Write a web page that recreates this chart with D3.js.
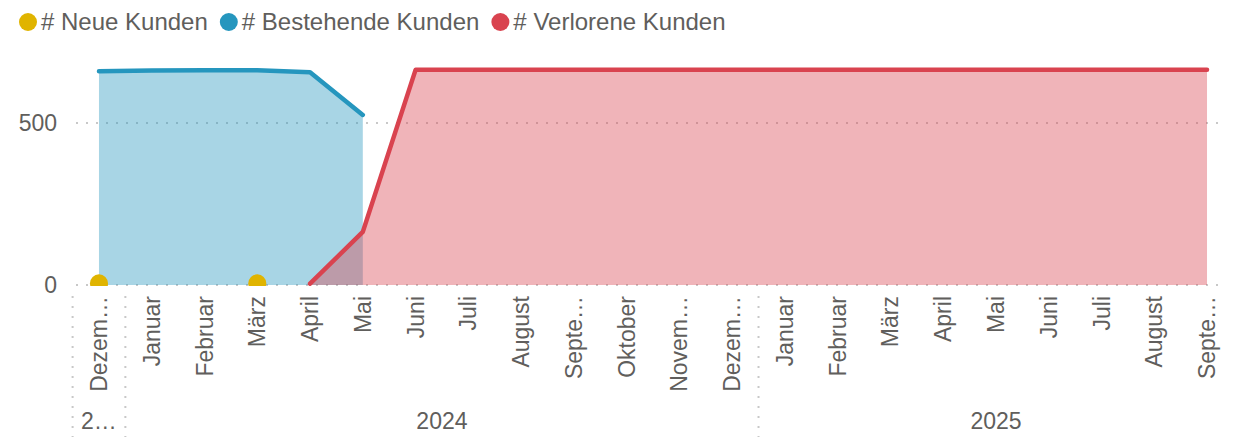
<!DOCTYPE html>
<html lang="de">
<head>
<meta charset="UTF-8">
<title>Kunden</title>
<script src="https://d3js.org/d3.v7.min.js"></script>
<style>
    body { margin: 0; background: #fff; }
    svg { display: block; font-family: "Liberation Sans", Arial, sans-serif; }
    .lbl { fill: #605e5c; font-size: 23px; }
    .legend text { font-size: 24px; }
    .grid { stroke: #c8c8c8; stroke-width: 2px; stroke-dasharray: 2 8; }
</style>
</head>
<body>
<div id="chart"></div>
<script>
    // Month labels and the year each month belongs to
    const months = ["Dezember", "Januar", "Februar", "März", "April", "Mai", "Juni", "Juli",
        "August", "September", "Oktober", "November", "Dezember",
        "Januar", "Februar", "März", "April", "Mai", "Juni", "Juli", "August", "September"];
    const years = [2023, 2024, 2024, 2024, 2024, 2024, 2024, 2024, 2024, 2024, 2024, 2024, 2024,
        2025, 2025, 2025, 2025, 2025, 2025, 2025, 2025, 2025];

    // Series values (null = no value for that month)
    const neueKunden = [2, null, null, 2, null, null, null, null, null, null, null, null, null,
        null, null, null, null, null, null, null, null, null];
    const bestehendeKunden = [660, 662, 663, 663, 657, 525, null, null, null, null, null, null, null,
        null, null, null, null, null, null, null, null, null];
    const verloreneKunden = [null, null, null, null, 4, 164, 664, 664, 664, 664, 664, 664, 664,
        664, 664, 664, 664, 664, 664, 664, 664, 664];

    const yTicks = [0, 500];

    const series = [
        {name: "# Neue Kunden", color: "#e0b400"},
        {name: "# Bestehende Kunden", color: "#2596be"},
        {name: "# Verlorene Kunden", color: "#d9434f"}
    ];

    const width = 1236, height = 437;
    const svg = d3.select("#chart").append("svg")
        .attr("width", width)
        .attr("height", height);

    const idx = d3.range(months.length);
    const x = d3.scalePoint().domain(idx).range([72.6, 1233.4]).padding(0.5);
    const step = x.step();
    const y = d3.scaleLinear().domain([0, 700]).range([285, 58.2]);

    // Legend
    const legend = svg.append("g").attr("class", "legend");
    let lx = 19;
    series.forEach(s => {
        legend.append("circle").attr("cx", lx + 9).attr("cy", 22).attr("r", 9).attr("fill", s.color);
        const t = legend.append("text").attr("class", "lbl")
            .attr("x", lx + 22).attr("y", 30).text(s.name);
        lx += 22 + t.node().getComputedTextLength() + 12;
    });

    // Gridlines and y labels
    svg.append("g").selectAll("line").data(yTicks).join("line")
        .attr("class", "grid")
        .attr("x1", 76).attr("x2", 1222)
        .attr("y1", d => y(d)).attr("y2", d => y(d));
    svg.append("g").selectAll("text").data(yTicks).join("text")
        .attr("class", "lbl")
        .attr("text-anchor", "end")
        .attr("x", 57).attr("y", d => y(d) + 8)
        .text(d => d);

    // Plot clip
    svg.append("clipPath").attr("id", "plot")
        .append("rect").attr("x", 60).attr("y", 0).attr("width", width - 60).attr("height", 286);
    const plot = svg.append("g").attr("clip-path", "url(#plot)");

    const area = vals => d3.area()
        .defined(i => vals[i] != null)
        .x(i => x(i)).y0(y(0)).y1(i => y(vals[i]))(idx);
    const line = vals => d3.line()
        .defined(i => vals[i] != null)
        .x(i => x(i)).y(i => y(vals[i]))(idx);

    plot.append("path").attr("d", area(bestehendeKunden))
        .attr("fill", series[1].color).attr("fill-opacity", 0.4);
    plot.append("path").attr("d", area(verloreneKunden))
        .attr("fill", series[2].color).attr("fill-opacity", 0.4);
    plot.append("path").attr("d", line(bestehendeKunden))
        .attr("fill", "none").attr("stroke", series[1].color).attr("stroke-width", 4.5)
        .attr("stroke-linecap", "round").attr("stroke-linejoin", "round");
    plot.append("path").attr("d", line(verloreneKunden))
        .attr("fill", "none").attr("stroke", series[2].color).attr("stroke-width", 4.5)
        .attr("stroke-linecap", "round").attr("stroke-linejoin", "round");
    plot.selectAll("circle.neu").data(idx.filter(i => neueKunden[i] != null)).join("circle")
        .attr("class", "neu")
        .attr("cx", i => x(i)).attr("cy", i => y(neueKunden[i]) - 1).attr("r", 9)
        .attr("fill", series[0].color);

    // Truncate text to a max width with an ellipsis
    function fit(sel, maxW) {
        sel.each(function () {
            const el = d3.select(this);
            const full = el.text();
            if (this.getComputedTextLength() <= maxW) return;
            let n = full.length;
            while (n > 1) {
                n--;
                el.text(full.slice(0, n) + "…");
                if (this.getComputedTextLength() <= maxW) break;
            }
        });
    }

    // Month labels
    svg.append("g").selectAll("text").data(idx).join("text")
        .attr("class", "lbl")
        .attr("text-anchor", "end")
        .attr("dy", "0.35em")
        .attr("transform", i => `translate(${x(i)},296) rotate(-90)`)
        .text(i => months[i])
        .call(fit, 100);

    // Year groups
    const groups = d3.groups(idx, i => years[i]).map(([yr, is]) => ({
        yr, x0: x(is[0]) - step / 2, x1: x(is[is.length - 1]) + step / 2
    }));
    const sep = groups.map(g => g.x0);
    svg.append("g").selectAll("line").data(sep).join("line")
        .attr("class", "grid")
        .attr("x1", d => d).attr("x2", d => d)
        .attr("y1", 296).attr("y2", height);
    svg.append("g").selectAll("text").data(groups).join("text")
        .attr("class", "lbl")
        .attr("text-anchor", "middle")
        .attr("x", g => (g.x0 + g.x1) / 2).attr("y", 429)
        .text(g => g.yr)
        .each(function (g) { fit(d3.select(this), g.x1 - g.x0 - 10); });
</script>
</body>
</html>
